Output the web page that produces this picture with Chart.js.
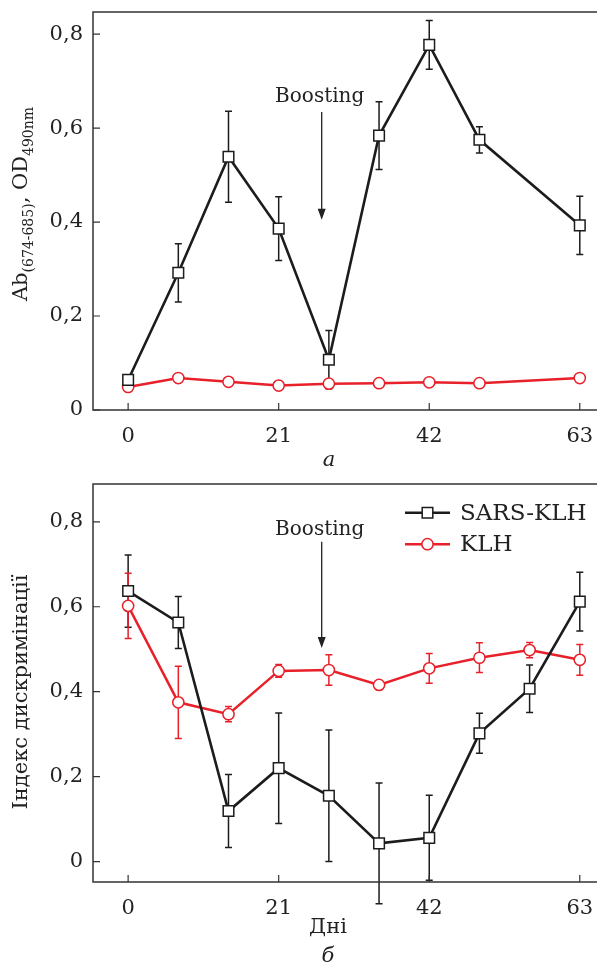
<!DOCTYPE html>
<html>
<head>
<meta charset="utf-8">
<script src="https://cdn.jsdelivr.net/npm/chart.js@4.4.0/dist/chart.umd.min.js"></script>
<style>
  html, body { margin: 0; padding: 0; background: #fff; }
  canvas { position: absolute; left: 0; }
  #chartA { top: 0; }
  #chartB { top: 470px; }
</style>
</head>
<body>
<canvas id="chartA" width="597" height="470"></canvas>
<canvas id="chartB" width="597" height="496"></canvas>
<script>
// Дані
const xTicks = [0, 21, 42, 63];
const yTicks = [0, 0.2, 0.4, 0.6, 0.8];
const boostDay = 27;

// a: антитіла
const daysA = [0, 7, 14, 21, 28, 35, 42, 49, 63];
const sarsA = [0.064, 0.292, 0.539, 0.386, 0.107, 0.584, 0.777, 0.575, 0.393];
const sarsAErr = [0, 0.062, 0.097, 0.068, 0.062, 0.072, 0.052, 0.028, 0.062];
const klhA = [0.049, 0.068, 0.060, 0.052, 0.056, 0.057, 0.059, 0.057, 0.068];

// б: індекс дискримінації
const daysB = [0, 7, 14, 21, 28, 35, 42, 49, 56, 63];
const sarsB = [0.637, 0.563, 0.119, 0.220, 0.155, 0.043, 0.056, 0.302, 0.407, 0.612];
const sarsBErr = [0.085, 0.061, 0.086, 0.130, 0.155, 0.142, 0.100, 0.047, 0.056, 0.069];
const klhB = [0.602, 0.375, 0.347, 0.449, 0.451, 0.416, 0.455, 0.480, 0.498, 0.475];
const klhBErr = [0.077, 0.085, 0.018, 0.015, 0.036, 0, 0.035, 0.035, 0.018, 0.036];

const seriesNames = ["SARS-KLH", "KLH"];

const BLACK = "#1c1c1c";
const RED = "#e8202a";
const SERIF = "'DejaVu Serif', 'Liberation Serif', serif";

const toXY = (xs, ys) => xs.map((x, i) => ({ x, y: ys[i] }));
const fmt = v => v === 0 ? "0" : v.toFixed(1).replace(".", ",");

function sarsSet(xs, ys, err) {
  return {
    label: seriesNames[0], data: toXY(xs, ys), err,
    borderColor: BLACK, borderWidth: 2.6, backgroundColor: "#fff",
    pointStyle: "rect", pointRadius: 7.5, pointBorderWidth: 1.5,
    pointBorderColor: BLACK, pointBackgroundColor: "#fff", clip: false
  };
}
function klhSet(xs, ys, err) {
  return {
    label: seriesNames[1], data: toXY(xs, ys), err,
    borderColor: RED, borderWidth: 2.5, backgroundColor: "#fff",
    pointStyle: "circle", pointRadius: 5.6, pointBorderWidth: 1.5,
    pointBorderColor: RED, pointBackgroundColor: "#fff", clip: false
  };
}

// рамка, внутрішні штрихи, планки похибок, стрілка, підписи
const decor = {
  id: "decor",
  beforeDatasetsDraw(chart) {
    const { ctx } = chart;
    const xs = chart.scales.x, ys = chart.scales.y;
    chart.data.datasets.forEach(ds => {
      if (!ds.err) return;
      ctx.save();
      ctx.strokeStyle = ds.borderColor;
      ctx.lineWidth = 1.5;
      ds.data.forEach((p, i) => {
        const e = ds.err[i];
        if (!e) return;
        const px = xs.getPixelForValue(p.x);
        const y1 = ys.getPixelForValue(p.y + e);
        const y2 = ys.getPixelForValue(p.y - e);
        ctx.beginPath();
        ctx.moveTo(px, y1); ctx.lineTo(px, y2);
        ctx.moveTo(px - 3.5, y1); ctx.lineTo(px + 3.5, y1);
        ctx.moveTo(px - 3.5, y2); ctx.lineTo(px + 3.5, y2);
        ctx.stroke();
      });
      ctx.restore();
    });
  },
  afterDraw(chart, args, opts) {
    const { ctx, chartArea: a } = chart;
    const xs = chart.scales.x, ys = chart.scales.y;
    ctx.save();
    // рамка (без правої сторони)
    ctx.strokeStyle = "#333";
    ctx.lineWidth = 1.5;
    ctx.beginPath();
    ctx.moveTo(chart.width, a.top); ctx.lineTo(a.left, a.top);
    ctx.lineTo(a.left, a.bottom); ctx.lineTo(chart.width, a.bottom);
    ctx.stroke();
    // штрихи всередину
    ctx.lineWidth = 1.2;
    ctx.beginPath();
    yTicks.forEach(v => {
      const py = ys.getPixelForValue(v);
      ctx.moveTo(a.left, py); ctx.lineTo(a.left + 7, py);
    });
    xTicks.forEach(v => {
      const px = xs.getPixelForValue(v);
      ctx.moveTo(px, a.bottom); ctx.lineTo(px, a.bottom - 7);
    });
    ctx.stroke();

    // Boosting
    const bx = xs.getPixelForValue(boostDay);
    ctx.fillStyle = "#222";
    ctx.strokeStyle = "#222";
    ctx.font = "20px " + SERIF;
    ctx.textAlign = "center";
    ctx.textBaseline = "alphabetic";
    ctx.fillText("Boosting", bx - 2, ys.getPixelForValue(opts.boostText));
    const yA = ys.getPixelForValue(opts.arrowFrom), yB = ys.getPixelForValue(opts.arrowTo);
    ctx.lineWidth = 1.3;
    ctx.beginPath(); ctx.moveTo(bx, yA); ctx.lineTo(bx, yB - 8); ctx.stroke();
    ctx.beginPath();
    ctx.moveTo(bx, yB); ctx.lineTo(bx - 4, yB - 11); ctx.lineTo(bx + 4, yB - 11);
    ctx.closePath(); ctx.fill();

    // вісь Y: назва
    ctx.save();
    ctx.translate(opts.yTitleX, opts.yTitleY);
    ctx.rotate(-Math.PI / 2);
    const parts = opts.yTitle;
    let total = 0;
    parts.forEach(p => { ctx.font = (p.sub ? "14px " : "21px ") + SERIF; total += ctx.measureText(p.t).width; });
    let cx = -total / 2;
    ctx.textAlign = "left";
    ctx.textBaseline = "middle";
    parts.forEach(p => {
      ctx.font = (p.sub ? "14px " : "21px ") + SERIF;
      ctx.fillText(p.t, cx, p.sub ? 7 : 0);
      cx += ctx.measureText(p.t).width;
    });
    ctx.restore();

    // підписи під віссю X
    ctx.textAlign = "center";
    ctx.textBaseline = "middle";
    (opts.xNotes || []).forEach(n => {
      ctx.font = (n.italic ? "italic " : "") + "21px " + SERIF;
      ctx.fillText(n.t, n.x, n.y);
    });

    // легенда
    if (opts.legend) {
      chart.data.datasets.forEach((ds, i) => {
        const ly = opts.legend.y + i * 31.5;
        const lx = opts.legend.x;
        ctx.strokeStyle = ds.borderColor;
        ctx.lineWidth = 2.5;
        ctx.beginPath(); ctx.moveTo(lx, ly); ctx.lineTo(lx + 45, ly); ctx.stroke();
        ctx.fillStyle = "#fff";
        ctx.lineWidth = 1.5;
        ctx.beginPath();
        if (ds.pointStyle === "rect") ctx.rect(lx + 22.5 - 5.3, ly - 5.3, 10.6, 10.6);
        else ctx.arc(lx + 22.5, ly, 5.6, 0, Math.PI * 2);
        ctx.fill(); ctx.stroke();
        ctx.fillStyle = "#222";
        ctx.font = "23px " + SERIF;
        ctx.textAlign = "left";
        ctx.textBaseline = "middle";
        ctx.fillText(ds.label, lx + 55, ly + 1);
      });
    }
    ctx.restore();
  }
};

function makeOptions(yMin, yMax, bottomSpace, extra) {
  return {
    responsive: false,
    animation: false,
    layout: { autoPadding: false, padding: { top: extra.top, right: 0, left: 0, bottom: 0 } },
    plugins: { legend: { display: false }, tooltip: { enabled: false }, decor: extra },
    elements: { line: { tension: 0 } },
    scales: {
      x: {
        type: "linear", min: -4.9, max: 65.4,
        afterBuildTicks: s => { s.ticks = xTicks.map(v => ({ value: v })); },
        afterFit: s => { s.height = bottomSpace; s.paddingLeft = 0; s.paddingRight = 0; },
        grid: { display: false, drawTicks: false },
        border: { display: false },
        ticks: { padding: 14, color: "#222", font: { family: SERIF, size: 21 } }
      },
      y: {
        type: "linear", min: yMin, max: yMax,
        afterBuildTicks: s => { s.ticks = yTicks.map(v => ({ value: v })); },
        afterFit: s => { s.width = 93; s.paddingTop = 0; s.paddingBottom = 0; },
        grid: { display: false, drawTicks: false },
        border: { display: false },
        ticks: { padding: 10, color: "#222", font: { family: SERIF, size: 21 }, callback: v => fmt(v) }
      }
    }
  };
}

new Chart(document.getElementById("chartA"), {
  type: "line",
  data: { datasets: [sarsSet(daysA, sarsA, sarsAErr), klhSet(daysA, klhA, null)] },
  options: makeOptions(0, 0.847, 60, {
    top: 12,
    boostText: 0.655, arrowFrom: 0.634, arrowTo: 0.405,
    yTitleX: 22, yTitleY: 204,
    yTitle: [{ t: "Ab" }, { t: "(674-685)", sub: true }, { t: ", OD" }, { t: "490nm", sub: true }],
    xNotes: [{ t: "a", x: 329, y: 461, italic: true }]
  }),
  plugins: [decor]
});

new Chart(document.getElementById("chartB"), {
  type: "line",
  data: { datasets: [sarsSet(daysB, sarsB, sarsBErr), klhSet(daysB, klhB, klhBErr)] },
  options: makeOptions(-0.048, 0.889, 84, {
    top: 14,
    boostText: 0.769, arrowFrom: 0.753, arrowTo: 0.503,
    yTitleX: 22, yTitleY: 222,
    yTitle: [{ t: "Індекс дискримінації" }],
    xNotes: [{ t: "Дні", x: 328, y: 458 }, { t: "б", x: 328, y: 487, italic: true }],
    legend: { x: 405, y: 42.7 }
  }),
  plugins: [decor]
});
</script>
</body>
</html>
